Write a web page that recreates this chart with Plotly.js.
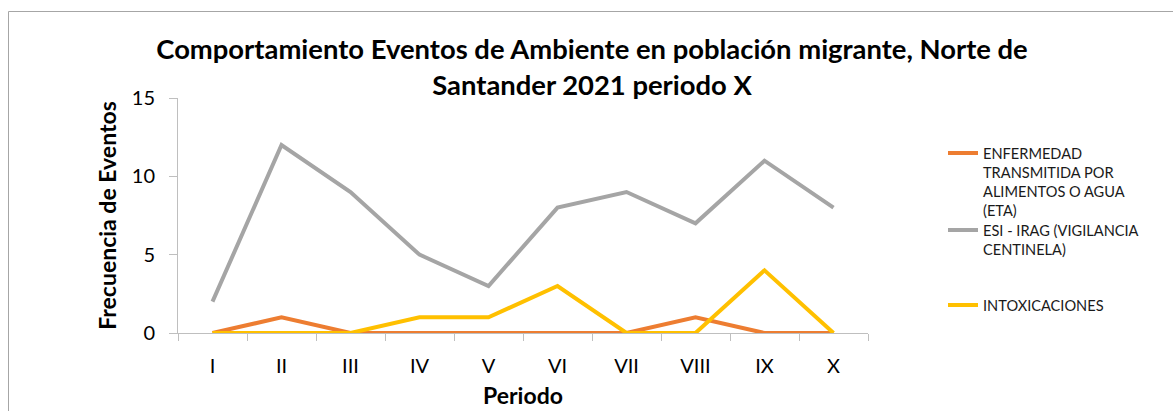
<!DOCTYPE html>
<html>
<head>
<meta charset="utf-8">
<script src="https://cdn.plot.ly/plotly-3.0.1.min.js"></script>
<style>html,body{margin:0;padding:0;background:#fff;}#chart{width:1173px;height:411px;}</style>
</head>
<body>
<div id="chart"></div>
<script>
const periodos = ['I','II','III','IV','V','VI','VII','VIII','IX','X'];
const eta = [0,1,0,0,0,0,0,1,0,0];
const esi = [2,12,9,5,3,8,9,7,11,8];
const intox = [0,0,0,1,1,3,0,0,4,0];
const nombres = [
  'ENFERMEDAD<br>TRANSMITIDA POR<br>ALIMENTOS O AGUA<br>(ETA)',
  'ESI - IRAG (VIGILANCIA<br>CENTINELA)',
  'INTOXICACIONES'
];
const colores = ['#ED7D31','#A5A5A5','#FFC000'];
const yTicks = [0,5,10,15];

const W = 1173, H = 411;
const L = 178, R = 868, T = 98, B = 333;
const px = v => (v - L) / (R - L);
const py = v => (B - v) / (B - T);

const font = 'Lato, "Open Sans", sans-serif';
const series = [eta, esi, intox];
const legNames = ['legend','legend2','legend3'];
const traces = series.map((s,i)=>({
  x: periodos, y: s, type:'scatter', mode:'lines', name: nombres[i],
  line:{color: colores[i], width:4}, legend: legNames[i], hoverinfo:'skip'
}));

const legBase = {
  xanchor:'left', yanchor:'top', bgcolor:'rgba(0,0,0,0)',
  font:{family:font, size:14.6, color:'#1a1a1a'}, valign:'top',
  itemclick:false, itemdoubleclick:false
};
const legX = px(943);
const legOff = 16;
const layout = {
  width: W, height: H,
  margin:{l:L, r:W-R, t:T, b:H-B},
  paper_bgcolor:'#fff', plot_bgcolor:'#fff',
  showlegend:true,
  title:{text:'<b>Comportamiento Eventos de Ambiente en población migrante, Norte de<br>Santander 2021 periodo X</b>',
    font:{family:font, size:27.4, color:'#000'}, x:592/W, xanchor:'center', y:1-59/H, yanchor:'middle', yref:'container'},
  xaxis:{type:'category', range:[-0.5,9.5], showline:true, linecolor:'#BFBFBF', linewidth:1,
    ticks:'outside', ticklen:7, tickcolor:'#BFBFBF', tickson:'boundaries', showgrid:false, zeroline:false,
    tickfont:{family:font, size:20, color:'#000'}, ticklabelstandoff:15,
    title:{text:'<b>Periodo</b>', font:{family:font, size:23, color:'#000'}, standoff:11}},
  yaxis:{range:[0,15], tickvals:yTicks, showline:true, linecolor:'#BFBFBF', linewidth:1,
    ticks:'outside', ticklen:8, tickcolor:'#BFBFBF', showgrid:false, zeroline:false,
    tickfont:{family:font, size:20, color:'#000'}, ticklabelstandoff:10,
    title:{text:'<b>Frecuencia de Eventos</b>', font:{family:font, size:23, color:'#000'}, standoff:8}},
  legend: Object.assign({}, legBase, {x:legX, y:py(153-legOff)}),
  legend2: Object.assign({}, legBase, {x:legX, y:py(230-legOff)}),
  legend3: Object.assign({}, legBase, {x:legX, y:py(305-legOff)}),
  shapes:[{type:'rect', xref:'paper', yref:'paper', x0:px(8.5), x1:px(1200), y0:py(11.5), y1:py(450),
    line:{color:'#A6A6A6', width:1}, fillcolor:'rgba(0,0,0,0)', layer:'below'}]
};
Plotly.newPlot('chart', traces, layout, {displayModeBar:false, staticPlot:true});
</script>
</body>
</html>
